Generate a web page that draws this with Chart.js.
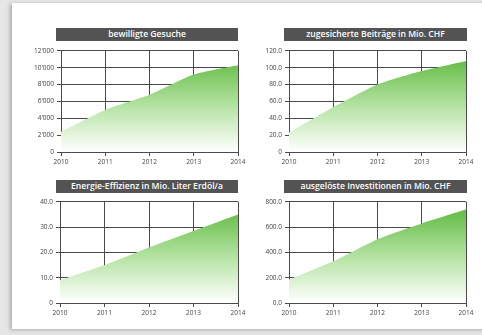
<!DOCTYPE html>
<html>
<head>
<meta charset="utf-8">
<script src="https://cdn.jsdelivr.net/npm/chart.js@4"></script>
<style>
  body { margin: 0; background: #e6e6e6; width: 482px; height: 335px; overflow: hidden; position: relative; }
  #card { position: absolute; left: 12px; top: 3px; width: 475px; height: 326px; background: #fff; box-shadow: -2px 1px 4px rgba(0,0,0,0.25); }
  .title { position: absolute; height: 13px; line-height: 13px; background: #535353; color: #fff; text-align: center;
           font: 600 8.6px "Open Sans", sans-serif; white-space: nowrap; overflow: hidden; }
  canvas { position: absolute; }
</style>
</head>
<body>
<div id="card"></div>
<div class="title" style="left:56px;top:28px;width:182px">bewilligte Gesuche</div>
<div class="title" style="left:284px;top:28px;width:183px">zugesicherte Beiträge in Mio. CHF</div>
<div class="title" style="left:56px;top:180px;width:182px">Energie-Effizienz in Mio. Liter Erdöl/a</div>
<div class="title" style="left:284px;top:180px;width:183px">ausgelöste Investitionen in Mio. CHF</div>
<canvas id="c1" width="248" height="126" style="left:0px;top:44px"></canvas>
<canvas id="c2" width="248" height="126" style="left:228px;top:44px"></canvas>
<canvas id="c3" width="248" height="126" style="left:0px;top:195px"></canvas>
<canvas id="c4" width="248" height="126" style="left:228px;top:195px"></canvas>
<script>
var years = ["2010", "2011", "2012", "2013", "2014"];

var gesuche = [2400, 5000, 6800, 9200, 10300];
var beitraege = [23, 53, 80, 96, 108];
var effizienz = [9, 15, 22, 28.5, 35];
var investitionen = [185, 330, 505, 630, 740];

function fmtThousands(v) {
    if (v == 0) return "0";
    return String(v).replace(/\B(?=(\d{3})+(?!\d))/g, "'");
}
function fmtOne(v) {
    if (v == 0) return "0";
    return v.toFixed(1);
}
function fmtOneZero(v) {
    return v.toFixed(1);
}

function makeChart(id, values, max, step, fmt, yWidth) {
    var ctx = document.getElementById(id).getContext("2d");
    return new Chart(ctx, {
        type: "line",
        data: {
            labels: years,
            datasets: [{
                data: values,
                fill: "origin",
                borderWidth: 0,
                borderColor: "rgba(0,0,0,0)",
                pointRadius: 0,
                tension: 0.2,
                backgroundColor: function(c) {
                    var a = c.chart.chartArea;
                    if (!a) return "#8fd27a";
                    var g = c.chart.ctx.createLinearGradient(0, a.top, 0, a.bottom);
                    g.addColorStop(0, "#55b534");
                    g.addColorStop(0.55, "#b6e3a4");
                    g.addColorStop(1, "#ffffff");
                    return g;
                }
            }]
        },
        options: {
            responsive: false,
            animation: false,
            layout: { padding: { top: 5, right: 10 } },
            plugins: { legend: { display: false }, tooltip: { enabled: false } },
            scales: {
                x: {
                    z: 1,
                    offset: false,
                    grid: { color: "#4a4a4a", lineWidth: 1, tickLength: 4, drawTicks: true },
                    border: { color: "#4a4a4a" },
                    ticks: { color: "#444", font: { family: "Open Sans", size: 6.5 }, padding: 2, maxRotation: 0 },
                    afterFit: function(s) { s.height = 18; }
                },
                y: {
                    z: 1,
                    min: 0, max: max,
                    grid: { color: "#4a4a4a", lineWidth: 1, tickLength: 4 },
                    border: { color: "#4a4a4a" },
                    ticks: { stepSize: step, color: "#444", font: { family: "Open Sans", size: 6.5 }, padding: 3,
                             callback: function(v) { return fmt(v); } },
                    afterFit: function(s) { s.width = yWidth; }
                }
            }
        }
    });
}

makeChart("c1", gesuche, 12000, 2000, fmtThousands, 61);
makeChart("c2", beitraege, 120, 20, fmtOne, 61);
makeChart("c3", effizienz, 40, 10, fmtOne, 60);
makeChart("c4", investitionen, 800, 200, fmtOneZero, 61);
</script>
</body>
</html>
